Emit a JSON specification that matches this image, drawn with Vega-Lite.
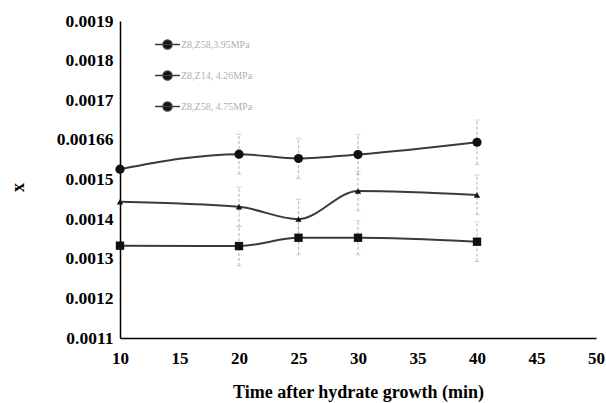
{
  "$schema": "https://vega.github.io/schema/vega-lite/v6.json",
  "width": 476,
  "height": 317,
  "autosize": {"type": "none"},
  "padding": {"left": 120, "top": 21, "right": 10, "bottom": 65},
  "background": "white",
  "config": {
    "view": {"stroke": null},
    "font": "Liberation Serif"
  },
  "data": {
    "values": [
      {"series": "Z8,Z58,3.95MPa", "time": 10, "x": 0.001526, "err": 0},
      {"series": "Z8,Z58,3.95MPa", "time": 20, "x": 0.001564, "err": 0.00005},
      {"series": "Z8,Z58,3.95MPa", "time": 25, "x": 0.001553, "err": 0.00005},
      {"series": "Z8,Z58,3.95MPa", "time": 30, "x": 0.001563, "err": 0.00005},
      {"series": "Z8,Z58,3.95MPa", "time": 40, "x": 0.001594, "err": 0.000056},
      {"series": "Z8,Z14, 4.26MPa", "time": 10, "x": 0.001444, "err": 0},
      {"series": "Z8,Z14, 4.26MPa", "time": 20, "x": 0.001431, "err": 0.00005},
      {"series": "Z8,Z14, 4.26MPa", "time": 25, "x": 0.0014, "err": 0.00005},
      {"series": "Z8,Z14, 4.26MPa", "time": 30, "x": 0.001471, "err": 0.00005},
      {"series": "Z8,Z14, 4.26MPa", "time": 40, "x": 0.001461, "err": 0.00005},
      {"series": "Z8,Z58, 4.75MPa", "time": 10, "x": 0.001333, "err": 0},
      {"series": "Z8,Z58, 4.75MPa", "time": 20, "x": 0.001332, "err": 0.00005},
      {"series": "Z8,Z58, 4.75MPa", "time": 25, "x": 0.001353, "err": 0.000043},
      {"series": "Z8,Z58, 4.75MPa", "time": 30, "x": 0.001353, "err": 0.000043},
      {"series": "Z8,Z58, 4.75MPa", "time": 40, "x": 0.001343, "err": 0.00005}
    ]
  },
  "encoding": {
    "x": {
      "field": "time",
      "type": "quantitative",
      "scale": {"domain": [10, 50], "nice": false, "zero": false},
      "axis": {
        "title": "Time after hydrate growth (min)",
        "values": [10, 15, 20, 25, 30, 35, 40, 45, 50],
        "grid": false,
        "ticks": false,
        "tickSize": 0,
        "domainColor": "#000",
        "domainWidth": 1.5,
        "labelFont": "Liberation Serif",
        "labelFontWeight": "bold",
        "labelFontSize": 17,
        "labelColor": "#000",
        "labelBaseline": "middle",
        "labelPadding": 20,
        "labelFlush": false,
        "titleFont": "Liberation Serif",
        "titleFontWeight": "bold",
        "titleFontSize": 18,
        "titleColor": "#000",
        "titleBaseline": "middle",
        "titleY": 54
      }
    },
    "y": {
      "field": "x",
      "type": "quantitative",
      "scale": {"domain": [0.0011, 0.0019], "nice": false, "zero": false},
      "axis": {
        "title": "x",
        "values": [0.0011, 0.0012, 0.0013, 0.0014, 0.0015, 0.0016, 0.0017, 0.0018, 0.0019],
        "labelExpr": "abs(datum.value - 0.0016) < 0.00000001 ? '0.00166' : format(datum.value, '.4f')",
        "grid": false,
        "ticks": false,
        "tickSize": 0,
        "domainColor": "#000",
        "domainWidth": 1.5,
        "labelFont": "Liberation Serif",
        "labelFontWeight": "bold",
        "labelFontSize": 17.5,
        "labelColor": "#000",
        "labelPadding": 7,
        "labelFlush": false,
        "titleFont": "Liberation Serif",
        "titleFontWeight": "bold",
        "titleFontSize": 18,
        "titleColor": "#000",
        "titleAngle": -90,
        "titleAlign": "center",
        "titleBaseline": "middle",
        "titleX": -102,
        "titleY": 166
      }
    }
  },
  "layer": [
    {
      "transform": [{"filter": "datum.err > 0"}],
      "mark": {
        "type": "errorbar",
        "ticks": {"color": "#bcbcbc", "size": 5},
        "rule": {"color": "#bcbcbc", "strokeDash": [3, 2], "strokeWidth": 1.2}
      },
      "encoding": {
        "yError": {"field": "err"},
        "detail": {"field": "series"}
      }
    },
    {
      "mark": {"type": "line", "interpolate": "monotone", "strokeWidth": 2},
      "encoding": {
        "stroke": {
          "field": "series",
          "type": "nominal",
          "scale": {
            "domain": ["Z8,Z58,3.95MPa", "Z8,Z14, 4.26MPa", "Z8,Z58, 4.75MPa"],
            "range": ["#3a3a3a", "#3a3a3a", "#3a3a3a"]
          },
          "legend": {
            "title": null,
            "orient": "none",
            "legendX": 34,
            "legendY": 10,
            "padding": 0,
            "symbolType": "M-1,0H1M-0.36,0a0.36,0.36 0 1,0 0.72,0a0.36,0.36 0 1,0 -0.72,0",
            "symbolSize": 625,
            "symbolStrokeWidth": 1.5,
            "rowPadding": 10,
            "labelFontSize": 10,
            "labelColor": "#b0b0b0",
            "labelFont": "Liberation Serif",
            "labelOffset": 0,
            "encode": {"symbols": {"update": {"fill": {"value": "#111"}, "stroke": {"value": "#333"}}}}
          }
        }
      }
    },
    {
      "transform": [{"filter": "datum.series == 'Z8,Z58,3.95MPa'"}],
      "mark": {"type": "point", "shape": "circle", "filled": true, "opacity": 1, "color": "#111", "size": 85}
    },
    {
      "transform": [{"filter": "datum.series == 'Z8,Z14, 4.26MPa'"}],
      "mark": {"type": "point", "shape": "triangle-up", "filled": true, "opacity": 1, "color": "#111", "size": 40}
    },
    {
      "transform": [{"filter": "datum.series == 'Z8,Z58, 4.75MPa'"}],
      "mark": {"type": "point", "shape": "square", "filled": true, "opacity": 1, "color": "#111", "size": 70}
    }
  ]
}
